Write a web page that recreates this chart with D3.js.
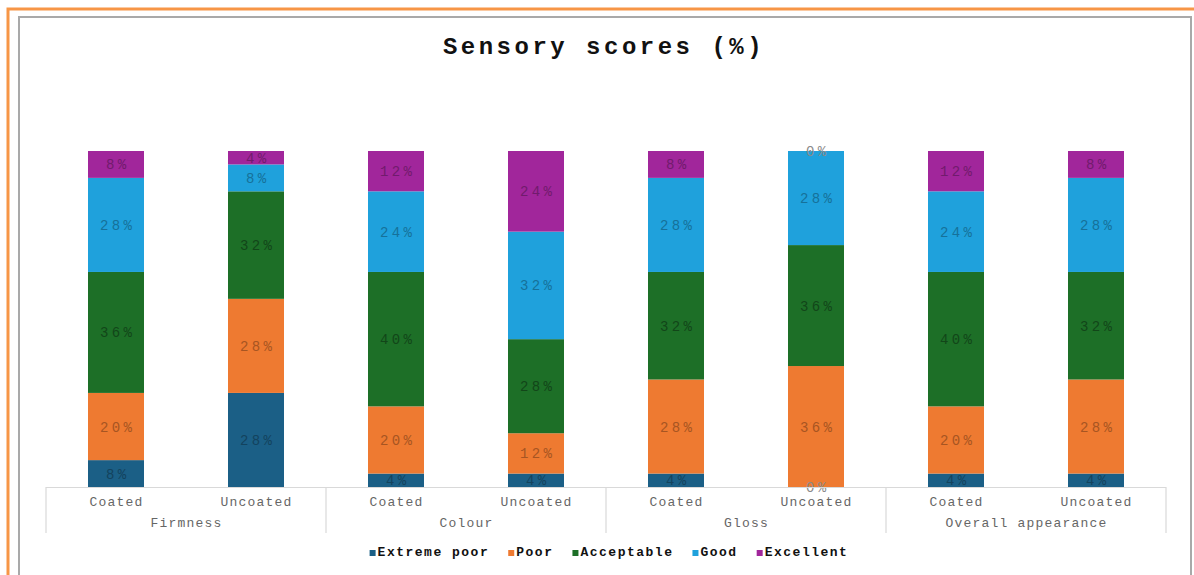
<!DOCTYPE html>
<html>
<head>
<meta charset="utf-8">
<script src="https://cdn.jsdelivr.net/npm/d3@7"></script>
<style>
  html, body { margin: 0; padding: 0; background: #ffffff; }
  svg { display: block; }
</style>
</head>
<body>
<svg id="chart" width="1194" height="575"></svg>
<script>
// ---- data ----
const groups = ["Firmness", "Colour", "Gloss", "Overall appearance"];
const subs = ["Coated", "Uncoated"];
const seriesNames = ["Extreme poor", "Poor", "Acceptable", "Good", "Excellent"];
const seriesColors = ["#1b5f86", "#ee7a31", "#1d6f27", "#1fa1dc", "#a1269b"];
// values per bar in order: Firmness C/U, Colour C/U, Gloss C/U, Overall C/U
const extremePoor = [8, 28, 4, 4, 4, 0, 4, 4];
const poor        = [20, 28, 20, 12, 28, 36, 20, 28];
const acceptable  = [36, 32, 40, 28, 32, 36, 40, 32];
const good        = [28, 8, 24, 32, 28, 28, 24, 28];
const excellent   = [8, 4, 12, 24, 8, 0, 12, 8];
const title = "Sensory scores (%)";

const FONT = "'Liberation Mono', 'Courier New', monospace";

const rows = [];
groups.forEach((g, gi) => subs.forEach((s, si) => {
  const i = gi * 2 + si;
  rows.push({ key: g + "|" + s, group: g, sub: s,
    "Extreme poor": extremePoor[i], "Poor": poor[i], "Acceptable": acceptable[i],
    "Good": good[i], "Excellent": excellent[i] });
}));

const svg = d3.select("#chart");

// frames
svg.append("rect").attr("x", 8).attr("y", 9).attr("width", 1200).attr("height", 600)
  .attr("fill", "none").attr("stroke", "#f79646").attr("stroke-width", 3);
svg.append("rect").attr("x", 19).attr("y", 17).attr("width", 1172).attr("height", 600)
  .attr("fill", "#ffffff").attr("stroke", "#a9a9a9").attr("stroke-width", 2);

// scales
const x0 = 46, x1 = 1166, yTop = 151, yBot = 487;
const x = d3.scaleBand().domain(rows.map(d => d.key)).range([x0, x1]).paddingInner(0.6).paddingOuter(0.3);
const y = d3.scaleLinear().domain([0, 100]).range([yBot, yTop]);
const color = d3.scaleOrdinal().domain(seriesNames).range(seriesColors);

const stack = d3.stack().keys(seriesNames);
const stacked = stack(rows);

// title
svg.append("text").attr("x", 604).attr("y", 54).attr("text-anchor", "middle")
  .attr("font-family", FONT).attr("font-weight", "bold").attr("font-size", 24)
  .attr("letter-spacing", 3.5).attr("fill", "#111")
  .text(title);

// bars
const layer = svg.append("g").selectAll("g").data(stacked).join("g")
  .attr("fill", d => color(d.key));
layer.selectAll("rect").data(d => d).join("rect")
  .attr("x", d => x(d.data.key))
  .attr("y", d => y(d[1]))
  .attr("width", x.bandwidth())
  .attr("height", d => y(d[0]) - y(d[1]));

// labels
const labels = svg.append("g");
stacked.forEach(s => {
  const c = d3.color(color(s.key));
  const lc = (s.key === "Acceptable") ? c.darker(1.3) : c.darker(1.0);
  s.forEach(d => {
    const v = d[1] - d[0];
    let lcol = lc.formatHex();
    if (v === 0) lcol = "#8a8a8a";
    labels.append("text")
      .attr("x", x(d.data.key) + x.bandwidth() / 2 + 1.7)
      .attr("y", (y(d[0]) + y(d[1])) / 2 + 5)
      .attr("text-anchor", "middle")
      .attr("font-family", FONT).attr("font-size", 14).attr("letter-spacing", 3.4)
      .attr("fill", lcol)
      .text(v + "%");
  });
});

// axis
const axisG = svg.append("g");
const xAxis = d3.axisBottom(x).tickSize(0).tickFormat(k => k.split("|")[1]);
const ag = axisG.append("g").attr("transform", `translate(0,${yBot})`).call(xAxis);
ag.select(".domain").attr("stroke", "#d9d9d9").attr("stroke-width", 1.2)
  .attr("d", `M${x0},0.5H${x1}`);
ag.selectAll(".tick text").attr("font-family", FONT).attr("font-size", 13)
  .attr("letter-spacing", 1.2).attr("fill", "#666").attr("dy", "0").attr("y", 19)
  .attr("dx", 0.6);

// group separators and labels
const groupStep = (x1 - x0) / groups.length;
d3.range(groups.length + 1).forEach(i => {
  axisG.append("line").attr("x1", x0 + i * groupStep).attr("x2", x0 + i * groupStep)
    .attr("y1", yBot).attr("y2", 533).attr("stroke", "#d9d9d9").attr("stroke-width", 1.2);
});
groups.forEach((g, i) => {
  axisG.append("text").attr("x", x0 + (i + 0.5) * groupStep + 0.6).attr("y", 527)
    .attr("text-anchor", "middle").attr("font-family", FONT).attr("font-size", 13)
    .attr("letter-spacing", 1.2).attr("fill", "#666").text(g);
});

// legend
const leg = svg.append("g");
let lx = 0;
const items = [];
const gap = 19;
seriesNames.forEach(n => {
  const g = leg.append("g");
  g.append("rect").attr("x", 0).attr("y", -5).attr("width", 6).attr("height", 6).attr("fill", color(n));
  const t = g.append("text").attr("x", 8).attr("y", 1).attr("font-family", FONT)
    .attr("font-weight", "bold").attr("font-size", 13).attr("letter-spacing", 1.5)
    .attr("fill", "#111").text(n);
  const w = t.node().getComputedTextLength();
  items.push({ g, w });
});
items.forEach(it => { it.g.attr("transform", `translate(${lx},0)`); lx += 8 + it.w + gap; });
const total = lx - gap;
leg.attr("transform", `translate(${609 - total / 2},555)`);
</script>
</body>
</html>
